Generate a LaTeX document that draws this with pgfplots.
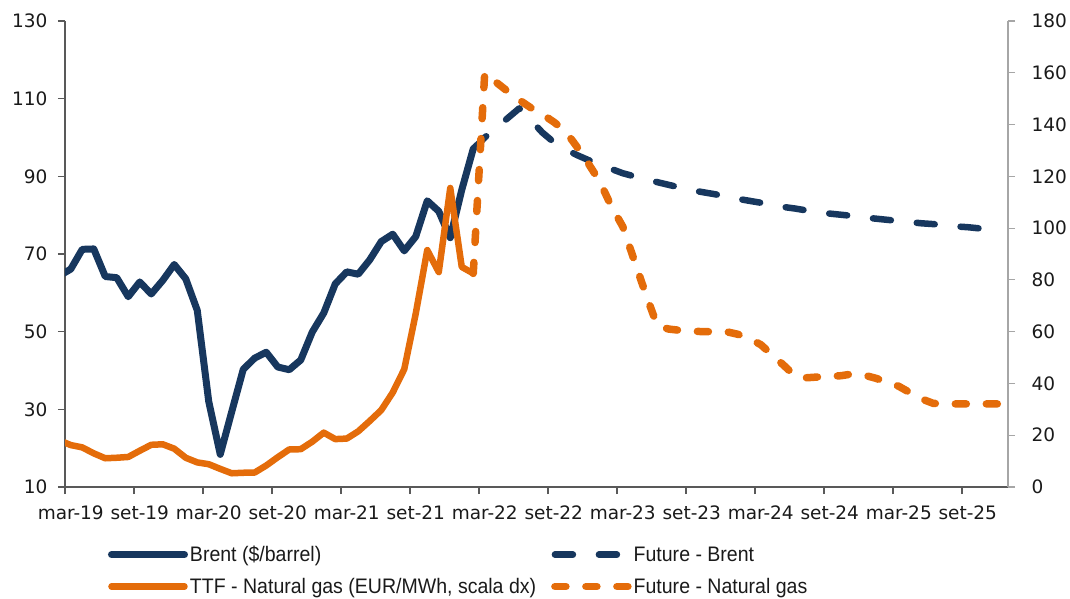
\documentclass[border=0pt]{standalone}
\usepackage{pgfplots}
\pgfplotsset{compat=1.18}
\usepackage{fontspec}
\setmainfont{DejaVu Sans}
\newfontfamily\legfont[FakeStretch=0.93]{Liberation Sans}
\newcommand\tickfont{\fontsize{18.5}{21}\selectfont}
\definecolor{navy}{RGB}{23,55,94}
\definecolor{orng}{RGB}{228,108,10}
\definecolor{axdark}{RGB}{89,89,89}
\definecolor{axlight}{RGB}{166,166,166}
\definecolor{lbl}{RGB}{26,26,26}

\pgfplotstableread{
m v
-0.5 64.4
0.5 66.1
1.5 71.2
2.5 71.3
3.5 64.2
4.5 63.9
5.5 59.0
6.5 62.8
7.5 59.7
8.5 63.2
9.5 67.3
10.5 63.6
11.5 55.5
12.5 32.0
13.5 18.4
14.5 29.4
15.5 40.3
16.5 43.2
17.5 44.7
18.5 40.9
19.5 40.2
20.5 42.7
21.5 49.9
22.5 54.8
23.5 62.3
24.5 65.4
25.5 64.8
26.5 68.5
27.5 73.2
28.5 75.1
29.5 70.8
30.5 74.5
31.5 83.7
32.5 81.0
33.5 74.2
34.5 86.5
35.5 97.1
}\brent

\pgfplotstableread{
m v
35.5 97.1
36.5 100.0
37.5 102.5
38.5 105.0
39.5 107.5
40.5 104.5
41.5 101.3
42.5 98.8
43.5 97.0
44.5 95.5
45.5 94.2
46.5 93.1
47.5 91.9
48.5 90.8
49.5 90.0
50.5 89.3
51.5 88.5
52.5 87.8
53.5 87.1
54.5 86.4
55.5 85.9
56.5 85.4
57.5 84.8
58.5 84.2
59.5 83.7
60.5 83.2
61.5 82.7
62.5 82.1
63.5 81.7
64.5 81.2
65.5 80.8
66.5 80.4
67.5 80.1
68.5 79.8
69.5 79.4
70.5 79.1
71.5 78.8
72.5 78.5
73.5 78.2
74.5 77.9
75.5 77.7
76.5 77.4
77.5 77.1
78.5 76.9
79.5 76.6
80.5 76.3
81.5 76.0
}\brentfut

\pgfplotstableread{
m v
-0.5 18.0
0.5 16.2
1.5 15.3
2.5 13.0
3.5 11.1
4.5 11.3
5.5 11.6
6.5 14.0
7.5 16.3
8.5 16.5
9.5 14.8
10.5 11.3
11.5 9.5
12.5 8.8
13.5 7.0
14.5 5.3
15.5 5.5
16.5 5.6
17.5 8.3
18.5 11.5
19.5 14.5
20.5 14.6
21.5 17.5
22.5 21.0
23.5 18.5
24.5 18.7
25.5 21.5
26.5 25.5
27.5 29.7
28.5 36.5
29.5 45.5
30.5 67.0
31.5 91.5
32.5 83.0
33.5 115.5
34.5 85.0
35.5 82.5
}\ttf

\pgfplotstableread{
m v
35.5 82.5
36.5 160.0
37.5 156.3
38.5 152.8
39.5 149.5
40.5 146.5
41.5 144.0
42.5 141.0
43.5 137.5
44.5 131.5
45.5 125.0
46.5 118.0
47.5 108.5
48.5 100.6
49.5 87.5
50.5 74.5
51.5 62.3
52.5 61.0
53.5 60.5
54.5 60.2
55.5 60.0
56.5 60.0
57.5 60.0
58.5 59.0
59.5 57.3
60.5 55.0
61.5 51.0
62.5 47.0
63.5 42.8
64.5 42.2
65.5 42.5
66.5 42.7
67.5 43.0
68.5 43.7
69.5 43.2
70.5 42.0
71.5 40.5
72.5 38.9
73.5 36.4
74.5 34.0
75.5 32.3
76.5 32.1
77.5 32.1
78.5 32.1
79.5 32.1
80.5 32.1
81.5 32.1
}\ttffut

\begin{document}
\begin{tikzpicture}
\useasboundingbox (-65pt,-112pt) rectangle (1005pt,487pt);
\pgfplotsset{
  brentstyle/.style={color=navy, line width=7pt, line join=round, line cap=round},
  brentfutstyle/.style={color=navy, line width=6.5pt, line join=round, line cap=round, dash pattern=on 18pt off 26pt},
  ttfstyle/.style={color=orng, line width=6.5pt, line join=round, line cap=round},
  ttffutstyle/.style={color=orng, line width=7.5pt, line join=round, line cap=round, dash pattern=on 11pt off 20pt},
  common/.style={
    scale only axis, width=943pt, height=466pt,
    xmin=0, xmax=82,
    tick align=outside, major tick length=7pt,
    ticklabel style={font=\tickfont, text=lbl},
    /pgf/number format/assume math mode=true,
    clip=true,
  }
}
\begin{axis}[common,
  ymin=10, ymax=130,
  axis x line*=bottom, axis y line*=left,
  axis line style={color=axdark, line width=1.5pt, -},
  tick style={color=axdark, line width=1.2pt},
  xtick={0,6,...,78},
  xticklabels={mar-19,set-19,mar-20,set-20,mar-21,set-21,mar-22,set-22,mar-23,set-23,mar-24,set-24,mar-25,set-25},
  xticklabel style={xshift=5.75pt, yshift=-8pt},
  yticklabel style={xshift=-7pt},
  ytick={10,30,...,130},
]
\addplot[brentstyle] table[x=m,y=v] {\brent};
\addplot[brentfutstyle] table[x=m,y=v] {\brentfut};
\end{axis}
\begin{axis}[common,
  ymin=0, ymax=180,
  axis x line=none, axis y line*=right,
  axis line style={color=axlight, line width=1.5pt, -},
  tick style={color=axlight, line width=1.2pt},
  ytick={0,20,...,180},
  yticklabel style={xshift=13pt},
  legend columns=2,
  legend cell align=left,
  legend image code/.code={\draw[#1] (0pt,0pt) -- (73pt,0pt);},
  legend style={draw=none, fill=none, inner sep=0pt, outer sep=0pt,
    font=\legfont\fontsize{21}{24}\selectfont, text=lbl,
    at={(axis description cs:0.0456,-0.1225)}, anchor=north west,
    nodes={inner sep=2pt},
    row sep=11pt,
    /tikz/every even column/.append style={column sep=13pt}},
]
\addlegendimage{brentstyle}
\addlegendentry{Brent (\$/barrel)}
\addlegendimage{brentfutstyle}
\addlegendentry{Future - Brent}
\addplot[ttfstyle] table[x=m,y=v] {\ttf};
\addlegendentry{TTF - Natural gas (EUR/MWh, scala dx)}
\addplot[ttffutstyle] table[x=m,y=v] {\ttffut};
\addlegendentry{Future - Natural gas}
\end{axis}
\end{tikzpicture}
\end{document}
